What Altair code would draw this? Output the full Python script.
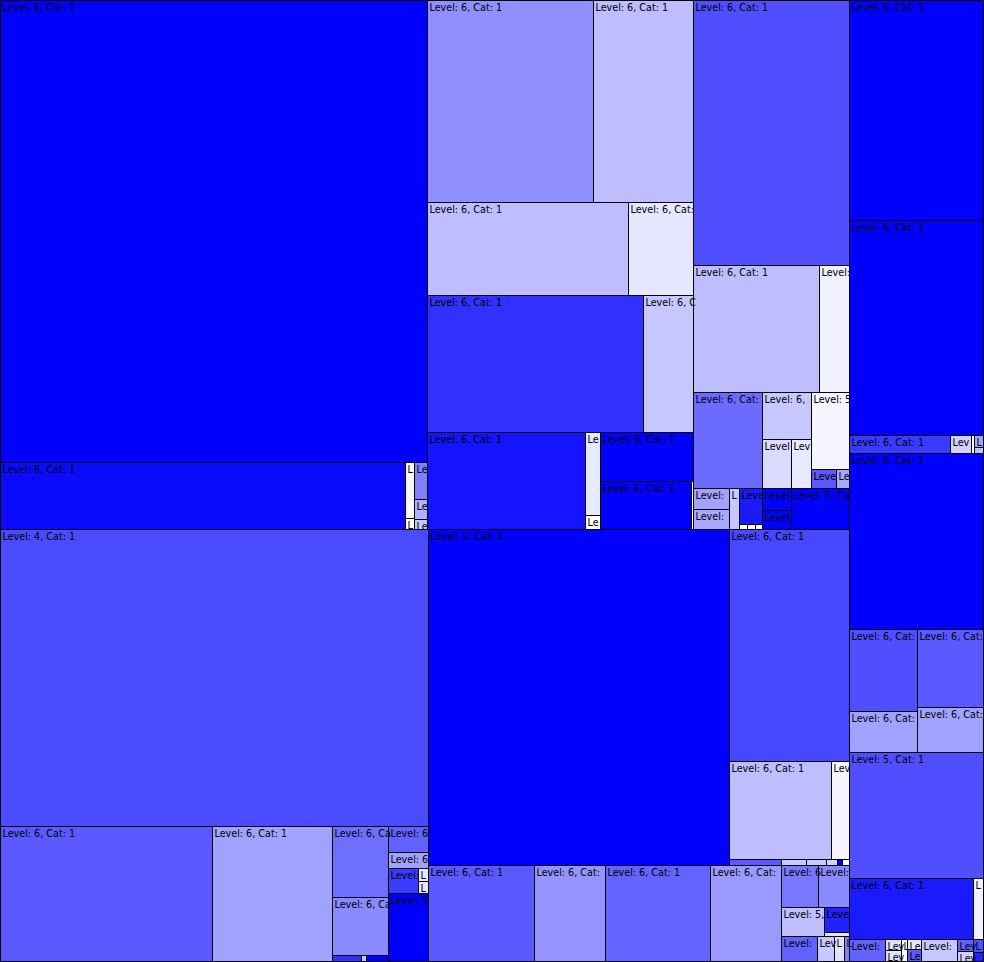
import altair as alt
import pandas as pd

# ---- data: leaf cells of the treemap (path of groups, size, blue intensity 0-100, level) ----
paths = [
    # top-left block
    "LM/T/TL/a", "LM/T/TL/b/1", "LM/T/TL/b/2/1", "LM/T/TL/b/2/2",
    "LM/T/TL/b/3/1", "LM/T/TL/b/3/2", "LM/T/TL/b/3/3",
    # top-middle block 1
    "LM/T/TM1/r1/1", "LM/T/TM1/r1/2", "LM/T/TM1/r2/1", "LM/T/TM1/r2/2",
    "LM/T/TM1/r3/1", "LM/T/TM1/r3/2", "LM/T/TM1/r4/1", "LM/T/TM1/r4/2/1",
    "LM/T/TM1/r4/2/2", "LM/T/TM1/r4/3/1", "LM/T/TM1/r4/3/2/1", "LM/T/TM1/r4/3/2/2",
    # top-middle block 2
    "LM/T/TM2/r1", "LM/T/TM2/r2/1", "LM/T/TM2/r2/2", "LM/T/TM2/r3/1",
    "LM/T/TM2/r3/2/1", "LM/T/TM2/r3/2/2/1", "LM/T/TM2/r3/2/2/2", "LM/T/TM2/r3/3/1",
    "LM/T/TM2/r3/3/2/1", "LM/T/TM2/r3/3/2/2", "LM/T/TM2/r4/1/1", "LM/T/TM2/r4/1/2",
    "LM/T/TM2/r4/2", "LM/T/TM2/r4/3/1", "LM/T/TM2/r4/3/2/1", "LM/T/TM2/r4/3/2/2",
    "LM/T/TM2/r4/3/2/3", "LM/T/TM2/r4/4/1", "LM/T/TM2/r4/4/2", "LM/T/TM2/r4/5",
    # bottom-left block
    "LM/B/BL/a", "LM/B/BL/b/1", "LM/B/BL/b/2", "LM/B/BL/b/3/1", "LM/B/BL/b/3/2",
    "LM/B/BL/b/3/3/1", "LM/B/BL/b/3/3/2", "LM/B/BL/b/3/3/3", "LM/B/BL/b/4/1",
    "LM/B/BL/b/4/2", "LM/B/BL/b/4/3/1", "LM/B/BL/b/4/3/2/1", "LM/B/BL/b/4/3/2/2",
    "LM/B/BL/b/4/4",
    # bottom-middle block
    "LM/B/BM/t/1", "LM/B/BM/t/2/1", "LM/B/BM/t/2/2/1", "LM/B/BM/t/2/2/2",
    "LM/B/BM/t/2/3/1", "LM/B/BM/t/2/3/2", "LM/B/BM/t/2/3/3", "LM/B/BM/t/2/3/4",
    "LM/B/BM/t/2/3/5", "LM/B/BM/t/2/3/6",
    "LM/B/BM/b/1", "LM/B/BM/b/2", "LM/B/BM/b/3", "LM/B/BM/b/4",
    "LM/B/BM/b/5/1/1", "LM/B/BM/b/5/1/2", "LM/B/BM/b/5/2/1", "LM/B/BM/b/5/2/2/1",
    "LM/B/BM/b/5/2/2/2", "LM/B/BM/b/5/3/1", "LM/B/BM/b/5/3/2", "LM/B/BM/b/5/3/3",
    "LM/B/BM/b/5/3/4",
    # right column
    "R/r1", "R/r2", "R/r3/1", "R/r3/2", "R/r3/3", "R/r3/4/1", "R/r3/4/2", "R/r4",
    "R/r5/1/1", "R/r5/1/2", "R/r5/2/1", "R/r5/2/2", "R/r6", "R/r7/1", "R/r7/2",
    "R/r8/1", "R/r8/2/1", "R/r8/2/2", "R/r8/3", "R/r8/4/1", "R/r8/4/2", "R/r8/5",
    "R/r8/6/1", "R/r8/6/2", "R/r8/7/1", "R/r8/7/2",
]

sizes = [
    1977, 271, 5.0, 1.0, 4.7, 2.6, 1.4,
    337, 202, 187, 61, 298, 70, 153, 12.5, 2.1, 46, 44, 1.0,
    413, 161, 38, 66, 23, 14.2, 9.8, 29, 4.75, 2.5, 7.6, 7.2, 4.1, 8.3,
    0.38, 0.38, 0.38, 6.4, 5.5, 23.8,
    1271, 286, 162, 39.8, 32.5, 1.8, 0.3, 1.3, 10.4, 6.4, 7.75, 1.2, 1.1, 27.2,
    1015, 278, 100, 17.6, 3.1, 1.5, 1.2, 0.66, 0.3, 0.42,
    102, 69, 101, 68, 15.5, 13, 12.5, 6.25, 1.0, 9, 4.25, 2.5, 1.25,
    295, 288, 18.2, 3.8, 0.5, 1.1, 0.5, 237, 55.8, 27.9, 51.5, 29.7, 169, 75.6, 6.1,
    7.9, 1.76, 1.76, 1.3, 1.4, 1.7, 7.9, 1.9, 1.6, 1.3, 0.9,
]

shades = [
    100, 96, 3, 0, 50, 31, 22,
    44, 26, 26, 10, 81, 22, 92, 9, 0, 100, 100, 0,
    69, 26, 6, 58, 22, 14, 9, 4, 65, 34, 36, 34, 22, 90,
    0, 0, 0, 100, 100, 100,
    71, 65, 37, 57, 46, 81, 22, 100, 62, 37, 77, 9, 9, 100,
    100, 72, 26, 4, 65, 22, 22, 18, 100, 0,
    65, 42, 61, 40, 53, 46, 25, 87, 12, 62, 22, 12, 50,
    100, 100, 77, 18, 0, 37, 25, 100, 69, 37, 65, 37, 69, 90, 6,
    62, 12, 12, 0, 9, 65, 22, 62, 18, 69, 87,
]

levels = [
    6, 6, 6, 6, 6, 6, 6,
    6, 6, 6, 6, 6, 6, 6, 6, 6, 6, 6, 6,
    6, 6, 6, 6, 6, 6, 6, 5, 6, 6, 6, 6, 6, 6,
    6, 6, 6, 6, 6, 5,
    4, 6, 6, 6, 6, 6, 6, 6, 6, 6, 6, 6, 6, 5,
    5, 6, 6, 6, 6, 6, 6, 6, 6, 6,
    6, 6, 6, 6, 6, 6, 5, 6, 6, 6, 6, 6, 6,
    6, 6, 6, 6, 6, 6, 6, 6, 6, 6, 6, 6, 5, 6, 6,
    6, 6, 6, 6, 6, 6, 4, 6, 6, 6, 6,
]

CANVAS_W, CANVAS_H = 983, 961
FONT_SIZE = 9.6

# ---- build hierarchy from paths ----
def make():
    return {"kids": {}, "leaf": None}

root = make()
for i, p in enumerate(paths):
    n = root
    for seg in p.split("/"):
        n = n["kids"].setdefault(seg, make())
    n["leaf"] = i

def total(n):
    if n["leaf"] is not None:
        return sizes[n["leaf"]]
    return sum(total(k) for k in n["kids"].values())

def layout(n, x0, y0, x1, y1, out):
    if n["leaf"] is not None:
        out.append((n["leaf"], x0, y0, x1, y1))
        return
    kids = list(n["kids"].values())
    tot = sum(total(k) for k in kids)
    horiz = (x1 - x0) >= (y1 - y0)
    acc = 0.0
    for k in kids:
        t = total(k)
        if horiz:
            a = x0 + (x1 - x0) * acc / tot
            b = x0 + (x1 - x0) * (acc + t) / tot
            layout(k, a, y0, b, y1, out)
        else:
            a = y0 + (y1 - y0) * acc / tot
            b = y0 + (y1 - y0) * (acc + t) / tot
            layout(k, x0, a, x1, b, out)
        acc += t

cells = []
layout(root, 0, 0, CANVAS_W, CANVAS_H, cells)

# approximate DejaVu Sans advance widths (em)
CW = {"L": 0.557, "e": 0.615, "v": 0.592, "l": 0.278, ":": 0.337, " ": 0.318,
      ",": 0.318, "C": 0.698, "a": 0.613, "t": 0.392}

def fit(text, avail):
    out, pos = "", 0.0
    for ch in text:
        w = CW.get(ch, 0.636) * FONT_SIZE
        if pos + 0.3 * w > avail:
            break
        out += ch
        pos += w
    return out

rows = []
for idx, x0, y0, x1, y1 in cells:
    x0, y0, x1, y1 = round(x0), round(y0), round(x1), round(y1)
    full = f"Level: {levels[idx]}, Cat: 1"
    w, h = x1 - x0, y1 - y0
    lab = fit(full, w - 3) if (h >= 10 and w >= 5) else ""
    rows.append({"x0": x0, "x1": x1, "y0": y0, "y1": y1,
                 "shade": shades[idx], "label": lab, "name": full})
df = pd.DataFrame(rows)
df_lab = df[df["label"] != ""]

xs = alt.Scale(domain=[-0.5, CANVAS_W + 0.5], nice=False, zero=False)
ys = alt.Scale(domain=[-0.5, CANVAS_H + 0.5], nice=False, zero=False, reverse=True)

rects = alt.Chart(df).mark_rect(stroke="black", strokeWidth=1).encode(
    x=alt.X("x0:Q", scale=xs, axis=None),
    x2="x1:Q",
    y=alt.Y("y0:Q", scale=ys, axis=None),
    y2="y1:Q",
    color=alt.Color("shade:Q",
                    scale=alt.Scale(domain=[0, 100], range=["#ffffff", "#0000ff"],
                                    interpolate="rgb"),
                    legend=None),
    tooltip=["name:N"],
)

labels = alt.Chart(df_lab).mark_text(
    align="left", baseline="top", dx=2, dy=2, font="DejaVu Sans",
    fontSize=FONT_SIZE, color="black"
).encode(
    x=alt.X("x0:Q", scale=xs, axis=None),
    y=alt.Y("y0:Q", scale=ys, axis=None),
    text="label:N",
)

chart = alt.layer(rects, labels).properties(
    width=984, height=962, padding=0
).configure_view(stroke=None)

chart.save("out.html", embed_options={"renderer": "svg", "actions": False})
